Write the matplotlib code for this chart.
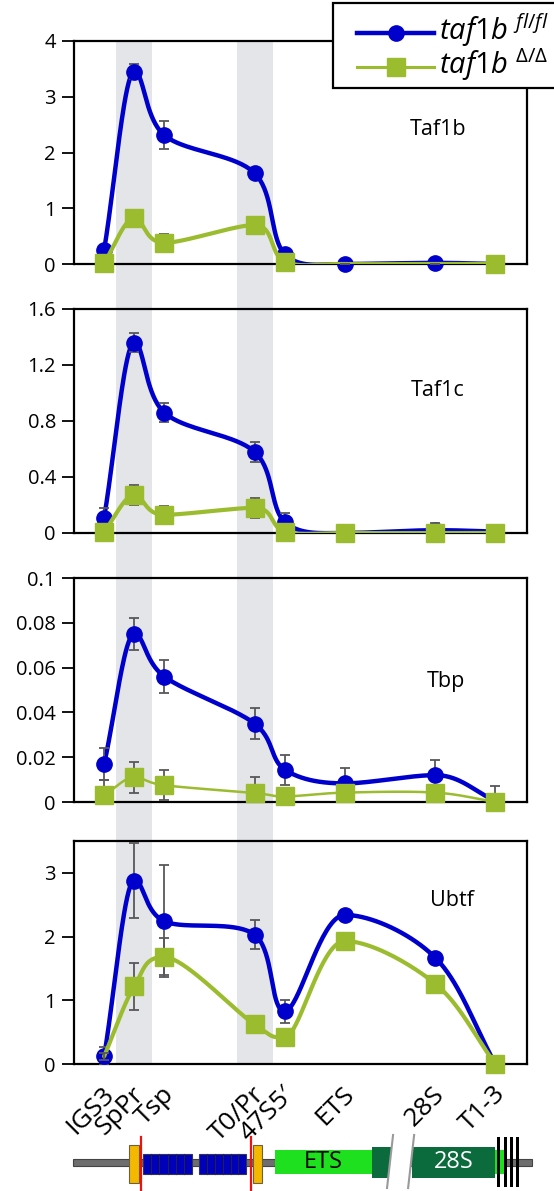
import matplotlib.pyplot as plt
import numpy as np
from matplotlib.lines import Line2D
from matplotlib.patches import Rectangle, Polygon
from matplotlib.transforms import blended_transform_factory, ScaledTranslation

plt.rcParams['font.family'] = ['Open Sans', 'DejaVu Sans']
plt.rcParams['mathtext.fontset'] = 'custom'
plt.rcParams['mathtext.it'] = 'Open Sans:italic'
plt.rcParams['mathtext.rm'] = 'Open Sans'

# amplicons along the rDNA repeat (position in repeat units)
sites = ['IGS3', 'SpPr', 'Tsp', 'T0/Pr', '47S5\u2032', 'ETS', '28S', 'T1-3']
site_pos = [0, 1, 2, 5, 6, 8, 11, 13]
promoters = ['SpPr', 'T0/Pr']

proteins = ['Taf1b', 'Taf1c', 'Tbp', 'Ubtf']
ymax = [4, 1.6, 0.1, 3.5]
yticks = [[0, 1, 2, 3, 4], [0, 0.4, 0.8, 1.2, 1.6],
          [0, 0.02, 0.04, 0.06, 0.08, 0.1], [0, 1, 2, 3]]

# taf1b fl/fl
flfl = [
    [0.25, 3.45, 2.31, 1.63, 0.18, 0.0, 0.02, 0.0],
    [0.11, 1.36, 0.86, 0.58, 0.08, 0.0, 0.02, 0.01],
    [0.017, 0.075, 0.056, 0.035, 0.0145, 0.0083, 0.012, 0.0005],
    [0.12, 2.88, 2.24, 2.03, 0.83, 2.34, 1.67, 0.0],
]
flfl_err = [
    [0.03, 0.13, 0.25, 0.06, 0.03, 0.01, 0.01, 0.01],
    [0.07, 0.07, 0.07, 0.07, 0.06, 0.01, 0.01, 0.01],
    [0.007, 0.007, 0.0075, 0.007, 0.0067, 0.0067, 0.0067, 0.0068],
    [0.14, 0.59, 0.88, 0.23, 0.18, 0.05, 0.05, 0.0],
]
# taf1b delta/delta
dd = [
    [0.02, 0.82, 0.38, 0.70, 0.04, 0.0, 0.0, 0.0],
    [0.01, 0.27, 0.13, 0.18, 0.01, 0.0, 0.0, 0.0],
    [0.003, 0.011, 0.0075, 0.004, 0.0025, 0.0042, 0.0042, 0.0],
    [0.12, 1.22, 1.68, 0.62, 0.42, 1.93, 1.26, 0.0],
]
dd_err = [
    [0.01, 0.06, 0.16, 0.06, 0.02, 0.0, 0.0, 0.0],
    [0.01, 0.07, 0.06, 0.07, 0.01, 0.06, 0.07, 0.06],
    [0.007, 0.0068, 0.0067, 0.007, 0.003, 0.003, 0.003, 0.003],
    [0.05, 0.37, 0.29, 0.05, 0.05, 0.05, 0.05, 0.0],
]
# points that carry a marker for the delta/delta series
dd_marked = [[0, 1, 2, 3, 4, 7], list(range(8)), list(range(8)), list(range(1, 8))]

BLUE = '#0000cc'
GREEN = '#9cbc30'
ERR = '#58585a'


def smooth(ax, x, y, n=40, k=1 / 6):
    # Catmull-Rom style Bezier through the points in screen space,
    # with flat tangents at peaks and troughs
    p = ax.transData.transform(np.column_stack([x, y]))
    m = len(p)
    tang = np.zeros_like(p)
    for i in range(m):
        d = p[min(i + 1, m - 1)] - p[max(i - 1, 0)]
        if 0 < i < m - 1 and (p[i, 1] - p[i - 1, 1]) * (p[i + 1, 1] - p[i, 1]) < 0:
            d = np.array([d[0], 0.0])
        tang[i] = d * k * (2 if i in (0, m - 1) else 1)
    t = np.linspace(0, 1, n)[:, None]
    out = []
    for i in range(m - 1):
        p1, p2 = p[i], p[i + 1]
        c1 = p1 + tang[i]
        c2 = p2 - tang[i + 1]
        out.append((1 - t) ** 3 * p1 + 3 * (1 - t) ** 2 * t * c1
                   + 3 * (1 - t) * t ** 2 * c2 + t ** 3 * p2)
    return ax.transData.inverted().transform(np.vstack(out))


W, H = 554, 1191
fig = plt.figure(figsize=(W / 100, H / 100), dpi=100)

panel_px = [(41, 264), (309, 533), (578, 802), (841, 1064)]
title_pos = [(0.803, 0.605), (0.803, 0.634), (0.821, 0.536), (0.834, 0.735)]
left, right = 74, 527
xlim = (-1.0, 14.05)

axes = []
for k, name in enumerate(proteins):
    top, bot = panel_px[k]
    ax = fig.add_axes([left / W, 1 - bot / H, (right - left) / W, (bot - top) / H])
    ax.set_facecolor('none')
    ax.set_xlim(*xlim)
    ax.set_ylim(0, ymax[k])
    ax.set_yticks(yticks[k])
    ax.set_yticklabels(['%g' % v for v in yticks[k]])
    ax.tick_params(axis='y', direction='out', length=9, width=1.3, labelsize=14.5, pad=4)
    ax.tick_params(axis='x', length=0)
    ax.set_xticks([])
    for sp in ax.spines.values():
        sp.set_linewidth(1.6)

    x = np.array(site_pos, dtype=float)
    c = smooth(ax, x, flfl[k])
    ax.plot(c[:, 0], c[:, 1], color=BLUE, lw=3.2, zorder=3, solid_capstyle='round')
    ax.errorbar(x, flfl[k], yerr=flfl_err[k], fmt='none', ecolor=ERR,
                elinewidth=1.3, capsize=3.5, capthick=1.3, zorder=3.5)
    ax.plot(x, flfl[k], 'o', color=BLUE, ms=11, zorder=4, clip_on=False)

    c = smooth(ax, x, dd[k])
    ax.plot(c[:, 0], c[:, 1], color=GREEN, lw=1.8 if name == 'Tbp' else 3.0,
            zorder=5, solid_capstyle='round')
    ax.errorbar(x, dd[k], yerr=dd_err[k], fmt='none', ecolor=ERR,
                elinewidth=1.3, capsize=3.5, capthick=1.3, zorder=5.5)
    idx = dd_marked[k]
    ax.plot(x[idx], np.array(dd[k])[idx], 's', color=GREEN, ms=12.5, zorder=6, clip_on=False)

    ax.text(*title_pos[k], name, transform=ax.transAxes, ha='center', va='center',
            fontsize=15.5)
    axes.append(ax)

# x labels on the bottom panel
ax4 = axes[-1]
ax4.set_xticks(site_pos)
ax4.set_xticklabels(sites, fontsize=19, rotation=45)
ax4.tick_params(axis='x', length=0, pad=19)
shift = ScaledTranslation(6 / 100, 0, fig.dpi_scale_trans)
for lab in ax4.get_xticklabels():
    lab.set_rotation_mode('anchor')
    lab.set_ha('right')
    lab.set_va('center')
    lab.set_transform(lab.get_transform() + shift)

# promoter bands running through all panels
band_tr = blended_transform_factory(ax4.transData, fig.transFigure)
y_lo = 1 - panel_px[-1][1] / H
y_hi = 1 - panel_px[0][0] / H
for p in promoters:
    xc = site_pos[sites.index(p)]
    fig.patches.append(Rectangle((xc - 0.6, y_lo), 1.2, y_hi - y_lo, transform=band_tr,
                                 facecolor='#e4e5e8', edgecolor='none', zorder=-1))

# legend box, drawn in pixel coordinates on an overlay
ov = fig.add_axes([0, 0, 1, 1], zorder=10)
ov.set_xlim(0, W)
ov.set_ylim(H, 0)
ov.axis('off')
ov.add_patch(Rectangle((333, 3), 240, 85, facecolor='white', edgecolor='black', lw=1.6))
legend_rows = [
    (BLUE, 'o', 11, 3.2, r'$\mathit{taf1b}^{\ \mathit{fl/fl}}$', 33),
    (GREEN, 's', 12.5, 2.2, r'$\mathit{taf1b}^{\ \mathit{\Delta/\Delta}}$', 67),
]
for col, mk, ms, lw, lab, yy in legend_rows:
    ov.add_line(Line2D([357, 434], [yy, yy], color=col, lw=lw))
    ov.add_line(Line2D([396], [yy], color=col, marker=mk, ms=ms, lw=0))
    ov.text(439, yy + 7, lab, fontsize=21, ha='left', va='baseline')

# gene map of the rDNA repeat
gx = ax4.transData.inverted()
gx0 = gx.transform((0, 0))[0]
gx1 = gx.transform((W, 0))[0]
gm = fig.add_axes([0, 0, 1, 63 / H])
gm.set_xlim(gx0, gx1)
gm.set_ylim(1191, 1128)
gm.axis('off')

gm.add_patch(Rectangle((-1.03, 1158.5), 15.25, 7, facecolor='#6e6e6e', edgecolor='#444444', lw=0.8))
for a, b in [(0.83, 1.16), (4.95, 5.25)]:
    gm.add_patch(Rectangle((a, 1145), b - a, 38, facecolor='#f5b800', edgecolor='#6b6040', lw=0.8, zorder=3))
for a, b in [(1.30, 2.92), (3.16, 4.72)]:
    gm.add_patch(Rectangle((a, 1154), b - a, 20, facecolor='#0000bb', edgecolor='#333355', lw=0.8, zorder=3))
    for xs in np.linspace(a, b, 7)[1:-1]:
        gm.plot([xs, xs], [1154, 1174], color='#222244', lw=0.8, zorder=4)
for xr in [1.23, 4.88]:
    gm.plot([xr, xr], [1137, 1191], color='#ee1111', lw=1.6, zorder=5)
gm.add_patch(Rectangle((5.68, 1150), 3.22, 24, facecolor='#1ee01e', edgecolor='none', zorder=3))
gm.add_patch(Rectangle((12.99, 1150), 0.33, 24, facecolor='#1ee01e', edgecolor='none', zorder=3))
gm.add_patch(Rectangle((8.90, 1147), 0.63, 31, facecolor='#0b6b3c', edgecolor='none', zorder=3))
gm.add_patch(Rectangle((10.23, 1147), 2.76, 31, facecolor='#0b6b3c', edgecolor='none', zorder=3))
gm.add_patch(Polygon([(9.60, 1135), (10.30, 1135), (10.10, 1188), (9.40, 1188)],
                     facecolor='white', edgecolor='none', zorder=6))
for a, b in [(9.60, 9.40), (10.30, 10.10)]:
    gm.plot([a, b], [1135, 1188], color='#9a9a9a', lw=1.5, zorder=7)
for xb in [13.09, 13.32, 13.55, 13.75]:
    gm.add_patch(Rectangle((xb - 0.05, 1137), 0.1, 50, facecolor='black', edgecolor='none', zorder=8))
gm.text(7.29, 1162, 'ETS', ha='center', va='center', fontsize=17, color='black', zorder=9)
gm.text(11.6, 1162, '28S', ha='center', va='center', fontsize=17, color='white', zorder=9)

fig.savefig('out.png', dpi=100)
